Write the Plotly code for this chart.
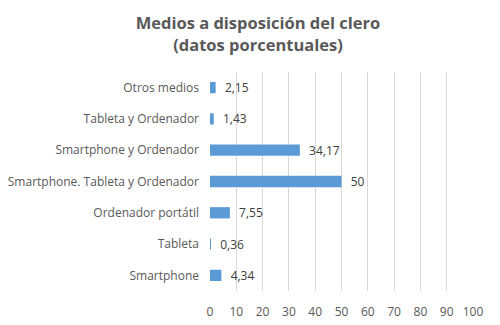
import plotly.graph_objects as go

categories = ["Smartphone", "Tableta", "Ordenador portátil",
              "Smartphone. Tableta y Ordenador", "Smartphone y Ordenador",
              "Tableta y Ordenador", "Otros medios"]
values = [4.34, 0.36, 7.55, 50, 34.17, 1.43, 2.15]
value_labels = ["4,34", "0,36", "7,55", "50", "34,17", "1,43", "2,15"]
x_ticks = list(range(0, 101, 10))

fig = go.Figure(go.Bar(
    y=categories, x=values, orientation="h",
    marker=dict(color="#5B9BD5", line=dict(width=0)),
    text=["  " + s for s in value_labels], textposition="outside",
    textfont=dict(color="#404040", size=12),
    constraintext="none",
    cliponaxis=False,
))

fig.update_layout(
    width=500, height=325,
    paper_bgcolor="white", plot_bgcolor="white",
    font=dict(family="Open Sans, Liberation Sans, sans-serif", color="#595959", size=12),
    title=dict(text="<b>Medios a disposición del clero<br>(datos porcentuales)</b>",
               x=0.5, xanchor="center", y=0.935, yanchor="top",
               font=dict(size=16.5, color="#595959")),
    margin=dict(l=202, r=35, t=64, b=42),
    bargap=0.64,
    showlegend=False,
)
fig.update_xaxes(range=[0, 100], tickvals=x_ticks, showgrid=True, gridcolor="#D9D9D9",
                 gridwidth=1, zeroline=False, showline=False, ticks="",
                 automargin=False, ticklabelstandoff=12,
                 tickfont=dict(size=12, color="#595959"))
fig.update_yaxes(showgrid=False, zeroline=False, showline=False, ticks="",
                 automargin=False, ticklabelstandoff=10,
                 tickfont=dict(size=12, color="#595959"))

fig.write_html("out.html")
